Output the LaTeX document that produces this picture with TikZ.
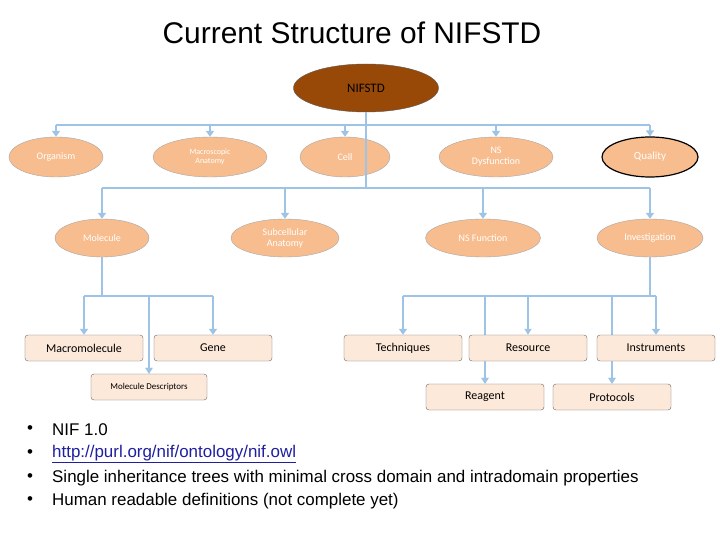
\documentclass[tikz,border=0pt]{standalone}
\usepackage{fontspec}
\setmainfont{Liberation Sans}
\newfontfamily\calfnt{Carlito}
\usetikzlibrary{shapes.geometric,arrows.meta}
\definecolor{ell}{HTML}{F8BD8E}
\definecolor{bx}{HTML}{FDE9D9}
\definecolor{ln}{HTML}{9DC3E6}
\definecolor{brn}{HTML}{984807}
\definecolor{lnk}{HTML}{1F1FA0}
\begin{document}
\begin{tikzpicture}[x=1bp,y=-1bp,
 el/.style={ellipse,draw=gray!70,fill=ell,text=white,font=\calfnt\fontsize{10}{11}\selectfont,align=center,inner sep=0pt,minimum height=40bp},
 bxs/.style={rectangle,rounded corners=3bp,draw=gray!80!black,fill=bx,font=\calfnt\fontsize{12}{13}\selectfont,minimum width=118bp,minimum height=26bp,inner sep=0pt},
 con/.style={draw=ln,line width=2.5bp,-{Triangle[width=8bp,length=6bp]}},
 thin/.style={draw=ln,line width=1.5bp,-{Triangle[width=7bp,length=6bp]}},
 bus/.style={draw=ln,line width=2.5bp}]
\useasboundingbox (0,0) rectangle (720,540);
\fill[white] (0,0) rectangle (720,540);
\node (t) at (352,33) {\fontsize{30}{34}\selectfont Current Structure of NIFSTD};
\node[ellipse,draw=gray!70!black,fill=brn,minimum width=145bp,minimum height=48bp,font=\calfnt\fontsize{13}{14}\selectfont] (root) at (366,88) {NIFSTD};
% row 1
\node[el,minimum width=94bp] (org) at (56,157) {Organism};
\node[el,minimum width=114bp,font=\calfnt\fontsize{8}{9}\selectfont] (mac) at (210,157) {Macroscopic\\Anatomy};
\node[el,minimum width=90bp] (cell) at (345,157) {Cell};
\node[el,minimum width=114bp] (nsd) at (496,157) {NS\\Dysfunction};
\node[el,minimum width=96bp,draw=black,line width=1.2bp] (qual) at (650,157) {\fontsize{11}{12}\selectfont Quality};
% row 2
\node[el,minimum width=94bp,minimum height=38bp] (mol) at (102,238) {Molecule};
\node[el,minimum width=108bp,minimum height=38bp] (sub) at (285,238) {Subcellular\\Anatomy};
\node[el,minimum width=115bp,minimum height=38bp] (nsf) at (483,238) {NS Function};
\node[el,minimum width=106bp,minimum height=38bp] (inv) at (650,238) {Investigation};
% thin lines behind boxes
\coordinate (b3) at (102,296);
\coordinate (b4) at (650,296);
\node[bxs,minimum width=116bp,font=\calfnt\fontsize{9}{10}\selectfont] (md) at (149,387) {Molecule Descriptors};
\node[bxs] (rea) at (485,397) {Reagent};
\node[bxs] (pro) at (612,397) {Protocols};
\draw[thin] (md.north |- b3) -- (md.north);
\draw[thin] (rea.north |- b4) -- (rea.north);
\draw[thin] (pro.north |- b4) -- (pro.north);
% boxes
\node[bxs] (macro) at (84,348) {Macromolecule};
\node[bxs] (gene) at (213,348) {Gene};
\node[bxs] (tech) at (403,348) {Techniques};
\node[bxs] (res) at (528,348) {Resource};
\node[bxs] (ins) at (656,348) {Instruments};
% connectors
\coordinate (b1) at (366,125);
\coordinate (b2) at (366,188);
\draw[bus] (root.south) -- (b2);
\draw[bus] (56,125) -- (650,125);
\foreach \n in {org,mac,cell,nsd,qual}{\draw[con] (\n.north |- b1) -- (\n.north);}
\draw[bus] (102,188) -- (650,188);
\foreach \n in {mol,sub,nsf,inv}{\draw[con] (\n.north |- b2) -- (\n.north);}
\draw[bus] (mol.south) -- (b3);
\draw[bus] (84,296) -- (213,296);
\draw[con] (macro.north |- b3) -- (macro.north);
\draw[con] (gene.north |- b3) -- (gene.north);
\draw[bus] (inv.south) -- (b4);
\draw[bus] (403,296) -- (656,296);
\draw[con] (tech.north |- b4) -- (tech.north);
\draw[thin] (res.north |- b4) -- (res.north);
\draw[con] (ins.north |- b4) -- (ins.north);
\draw[thin] (md.north |- macro.south) -- (md.north);
\draw[thin] (rea.north |- res.south) -- (rea.north);
\draw[thin] (pro.north |- ins.south) -- (pro.north);
% bullets
\begin{scope}[every node/.style={anchor=west,font=\fontsize{17}{19}\selectfont,inner sep=0pt}]
\foreach \y in {430,454,478,501}{\node at (27,\y) {•};}
\node (l1) at (52,430) {NIF 1.0};
\node[text=lnk] (l2) at (52,454) {\underline{http://purl.org/nif/ontology/nif.owl}};
\node (l3) at (52,478) {Single inheritance trees with minimal cross domain and intradomain properties};
\node (l4) at (52,501) {Human readable definitions (not complete yet)};
\end{scope}
\end{tikzpicture}
\end{document}
